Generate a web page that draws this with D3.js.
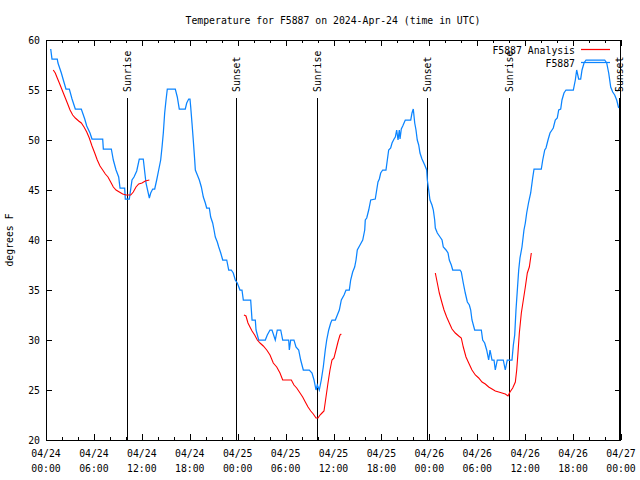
<!DOCTYPE html>
<html><head><meta charset="utf-8">
<script src="https://cdn.jsdelivr.net/npm/d3@7"></script>
<style>body{margin:0;background:#fff}svg{display:block}text{font-family:"DejaVu Sans Mono",monospace;font-size:9.8px;fill:#000}</style>
</head><body><svg id="c" width="640" height="480"></svg>
<script>
// ---- data (hours since 2024-04-24 00:00 UTC) ----
const titleText = "Temperature for F5887 on 2024-Apr-24 (time in UTC)";
const yLabel = "degrees F";
const yTicks = [20,25,30,35,40,45,50,55,60];
const xTickHours = [0,6,12,18,24,30,36,42,48,54,60,66,72];
const obsHours = [0.59,0.75,1.41,1.50,1.92,2.17,2.50,2.92,3.26,3.67,4.42,4.85,5.10,5.51,5.76,7.10,7.18,8.18,8.43,8.77,9.10,9.27,9.85,9.93,10.43,10.77,11.02,11.36,11.68,12.18,12.52,12.94,13.11,13.36,13.61,13.86,14.11,14.36,14.53,14.69,14.86,15.03,15.19,16.19,16.44,16.69,17.44,17.62,17.87,18.03,18.12,18.28,18.44,18.62,18.70,18.95,19.20,19.45,19.70,19.95,20.12,20.45,20.62,20.87,21.04,21.20,21.45,21.63,21.88,22.13,22.63,22.88,23.20,23.45,23.70,23.95,24.29,24.54,24.71,25.63,25.80,26.21,26.30,26.63,27.46,27.71,28.05,28.30,28.71,28.96,29.39,29.64,30.39,30.47,30.64,31.05,31.30,31.64,31.89,32.22,32.97,33.31,33.56,33.81,33.97,34.22,34.47,34.72,34.97,35.15,35.40,35.65,35.81,36.23,36.48,36.73,36.98,37.32,37.57,37.98,38.15,38.40,38.65,38.82,38.98,39.32,39.66,39.91,39.98,40.16,40.41,40.66,41.23,41.41,41.57,41.74,41.91,42.16,42.57,42.74,42.91,43.16,43.33,43.58,43.74,43.91,44.08,44.24,44.33,44.49,44.67,44.83,44.99,45.67,45.83,45.99,46.17,46.33,46.49,46.67,46.83,47.08,47.42,47.67,47.75,47.92,48.08,48.33,48.50,48.67,48.75,49.00,49.34,49.59,49.75,50.09,50.34,50.50,50.75,50.93,51.84,52.00,52.25,52.50,52.76,53.01,53.18,53.34,53.68,54.51,54.68,54.93,55.18,55.43,55.60,55.85,56.10,56.26,56.51,57.26,57.51,57.76,58.35,58.52,58.69,58.85,59.02,59.19,59.35,59.60,59.85,60.02,60.19,60.44,60.69,60.94,61.11,62.02,62.20,62.45,62.61,62.86,63.11,63.36,63.52,63.77,64.02,64.20,64.45,64.61,64.86,65.11,66.03,66.28,66.45,66.70,66.95,67.12,67.37,67.62,69.96,70.21,70.46,70.71,70.96,71.21,71.46,71.71];
const obsTemps = [59.1,58.1,58.1,57.7,56.7,56,55.1,55.1,54.1,53.1,53.1,52.1,51.4,50.7,50.1,50.1,49.1,49.1,48,47,46.3,45.2,45.2,44.1,44.1,46,46.3,46.9,48.1,48.1,45.7,44.2,44.7,45.1,45.1,46,47,48,49.3,50.7,52.7,54,55.1,55.1,54.3,53.1,53.1,53.7,54.1,54.1,53.3,51.7,50,48,47,46.5,46,45.3,44.3,43.7,43.2,43.2,42.3,41.7,41,40.3,39.8,39.3,38.7,38,38,37,37,36.7,36,35.7,35,35,34,34,32,32,31,30,30,30.5,31,31,30,31,31,30,30,29,30,30,29.3,29,28,27,27,26.7,26,25,25.5,25,26,27.3,29,30,31,31.7,32,32,32.5,33,34,34.5,35,35,36,36.8,37.3,38,39,39.5,40,41,42,42.2,43,44,44.1,45,45.8,46.1,46.7,47,47,48,49,49.2,49.7,50.1,50.3,51,50,51,50.1,51.1,51.4,51.7,52,52,52.7,53.1,51.7,51,50,49.5,48.7,48.1,47.5,47,46,45,44,43.5,43,42,41.2,40.7,40.3,40,39.3,39,38.7,38,37.5,37,37,36.8,35.7,34.7,33.8,33.5,33,32,31,31,30,29.7,29,28,29,28,28,27,28,28,27,28,28,29.5,30.5,33,35,37,38.2,39.3,41,41.7,42.7,43.8,44.7,46.2,47.1,47.1,48,49,49.2,50,50.7,51,51.2,52,52.2,53,53.1,54,54.7,55,55,56,57,56.1,56.1,57,57.7,58,58,57.7,56.7,55.3,54.8,54.5,54,53.2];
const anaHours1 = [0.91,1.16,1.41,1.67,1.92,2.17,2.42,2.67,3.01,3.34,3.67,4.09,4.42,4.76,5.10,5.42,5.76,6.10,6.42,6.76,7.10,7.43,7.76,8.10,8.43,8.77,9.18,9.60,10.02,10.61,10.93,11.27,11.61,12.02,12.43,12.94];
const anaTemps1 = [57,56.7,56.2,55.7,55.2,54.7,54.2,53.7,53,52.5,52.2,51.9,51.7,51.3,50.8,50.2,49.4,48.7,48,47.4,47,46.6,46.3,45.8,45.3,45,44.8,44.6,44.5,44.5,44.8,45.3,45.6,45.7,45.9,46];
const anaHours2 = [24.79,25.04,25.29,25.54,25.80,26.13,26.46,26.80,27.21,27.64,28.05,28.46,28.89,29.30,29.64,30.72,31.05,31.39,31.81,32.14,32.47,32.81,33.15,33.47,33.81,34.06,34.31,34.56,34.81,35.06,35.31,35.56,35.81,36.06,36.31,36.56,36.81,36.98];
const anaTemps2 = [32.5,32.4,31.7,31.3,30.9,30.5,30,29.7,29.4,29,28.5,27.7,27.3,26.7,26,26,25.5,25.2,24.7,24.3,23.8,23.3,22.9,22.6,22.2,22.2,22.5,22.7,22.9,24.3,25.7,27,28,28.2,29,29.8,30.5,30.6];
const anaHours3 = [48.75,49.00,49.25,49.59,49.84,50.17,50.50,50.84,51.25,51.68,52.00,52.25,52.59,52.93,53.34,53.76,54.18,54.60,55.01,55.43,55.85,56.26,56.69,57.10,57.51,57.85,58.10,58.44,58.77,58.94,59.10,59.27,59.52,59.77,60.02,60.27,60.52,60.77];
const anaTemps3 = [36.7,35.7,34.7,33.7,33,32.3,31.7,31.1,30.7,30.4,30.2,29.3,28.3,27.7,27,26.5,26.2,25.8,25.6,25.3,25.1,24.9,24.8,24.7,24.6,24.4,24.8,25.2,25.8,27,28.7,30.7,32.7,34,35.3,36.7,37.3,38.7];
const sunHours = [10.10,23.75,33.97,47.75,58.01,71.79];
const sunLabels = ["Sunrise","Sunset","Sunrise","Sunset","Sunrise","Sunset"];
const seriesNames = ["F5887 Analysis","F5887"];
const seriesColors = ["#ff0000","#0a84ff"];

// ---- drawing ----
const t0 = Date.UTC(2024,3,24);
const T = h => new Date(t0 + h*3600e3);
const svg = d3.select("#c");
const L=46,R=621,Tp=40,B=440;
const x = d3.scaleUtc().domain([T(0),T(72)]).range([L,R]);
const y = d3.scaleLinear().domain([20,60]).range([B,Tp]);

svg.append("text").attr("x",333).attr("y",24).attr("text-anchor","middle").text(titleText);
svg.append("text").attr("transform","translate(13,240) rotate(-90)").attr("text-anchor","middle").text(yLabel);

const g = svg.append("g").attr("stroke","#000").attr("stroke-width",1).attr("shape-rendering","crispEdges");
// minor x ticks every 2h, major every 6h
const minor = d3.range(0,73,2);
minor.forEach(h=>{
  const xx = Math.round(x(T(h)))+0.5;
  const len = (h%6===0)?6:3;
  g.append("line").attr("x1",xx).attr("x2",xx).attr("y1",B).attr("y2",B-len);
  g.append("line").attr("x1",xx).attr("x2",xx).attr("y1",Tp).attr("y2",Tp+len);
});
yTicks.forEach(v=>{
  const yy = Math.round(y(v))+0.5;
  g.append("line").attr("x1",L).attr("x2",L+6).attr("y1",yy).attr("y2",yy);
  g.append("line").attr("x1",R).attr("x2",R-6).attr("y1",yy).attr("y2",yy);
  svg.append("text").attr("x",40).attr("y",yy+3.5).attr("text-anchor","end").text(v);
});
const fmtD = d3.utcFormat("%m/%d"), fmtT = d3.utcFormat("%H:%M");
xTickHours.forEach(h=>{
  const xx = x(T(h));
  const t = svg.append("text").attr("x",xx).attr("y",457).attr("text-anchor","middle");
  t.append("tspan").attr("x",xx).text(fmtD(T(h)));
  t.append("tspan").attr("x",xx).attr("dy",14.5).text(fmtT(T(h)));
});

// sun lines
sunHours.forEach((h,i)=>{
  const xx = Math.round(x(T(h)))+0.5;
  g.append("line").attr("x1",xx).attr("x2",xx).attr("y1",98).attr("y2",B);
  svg.append("text").attr("transform",`translate(${xx+3.5},92) rotate(-90)`).attr("text-anchor","start").text(sunLabels[i]);
});

const line = d3.line().x(d=>x(T(d[0]))).y(d=>y(d[1]));
const zip = (a,b)=>a.map((v,i)=>[v,b[i]]);
svg.append("path").attr("d",line(zip(obsHours,obsTemps))).attr("fill","none").attr("stroke",seriesColors[1]).attr("stroke-width",1.25);
[[anaHours1,anaTemps1],[anaHours2,anaTemps2],[anaHours3,anaTemps3]].forEach(([h,v])=>{
  svg.append("path").attr("d",line(zip(h,v))).attr("fill","none").attr("stroke",seriesColors[0]).attr("stroke-width",1.1);
});

// legend
seriesNames.forEach((n,i)=>{
  const yy = 50 + i*13;
  svg.append("text").attr("x",575).attr("y",yy+3.5).attr("text-anchor","end").text(n);
  svg.append("line").attr("x1",581).attr("x2",610).attr("y1",yy-0.5).attr("y2",yy-0.5).attr("stroke",seriesColors[i]).attr("stroke-width",1.25);
});

// frame
svg.append("rect").attr("x",L+0.5).attr("y",Tp+0.5).attr("width",R-L-1).attr("height",B-Tp).attr("fill","none").attr("stroke","#000").attr("shape-rendering","crispEdges");
</script></body></html>
